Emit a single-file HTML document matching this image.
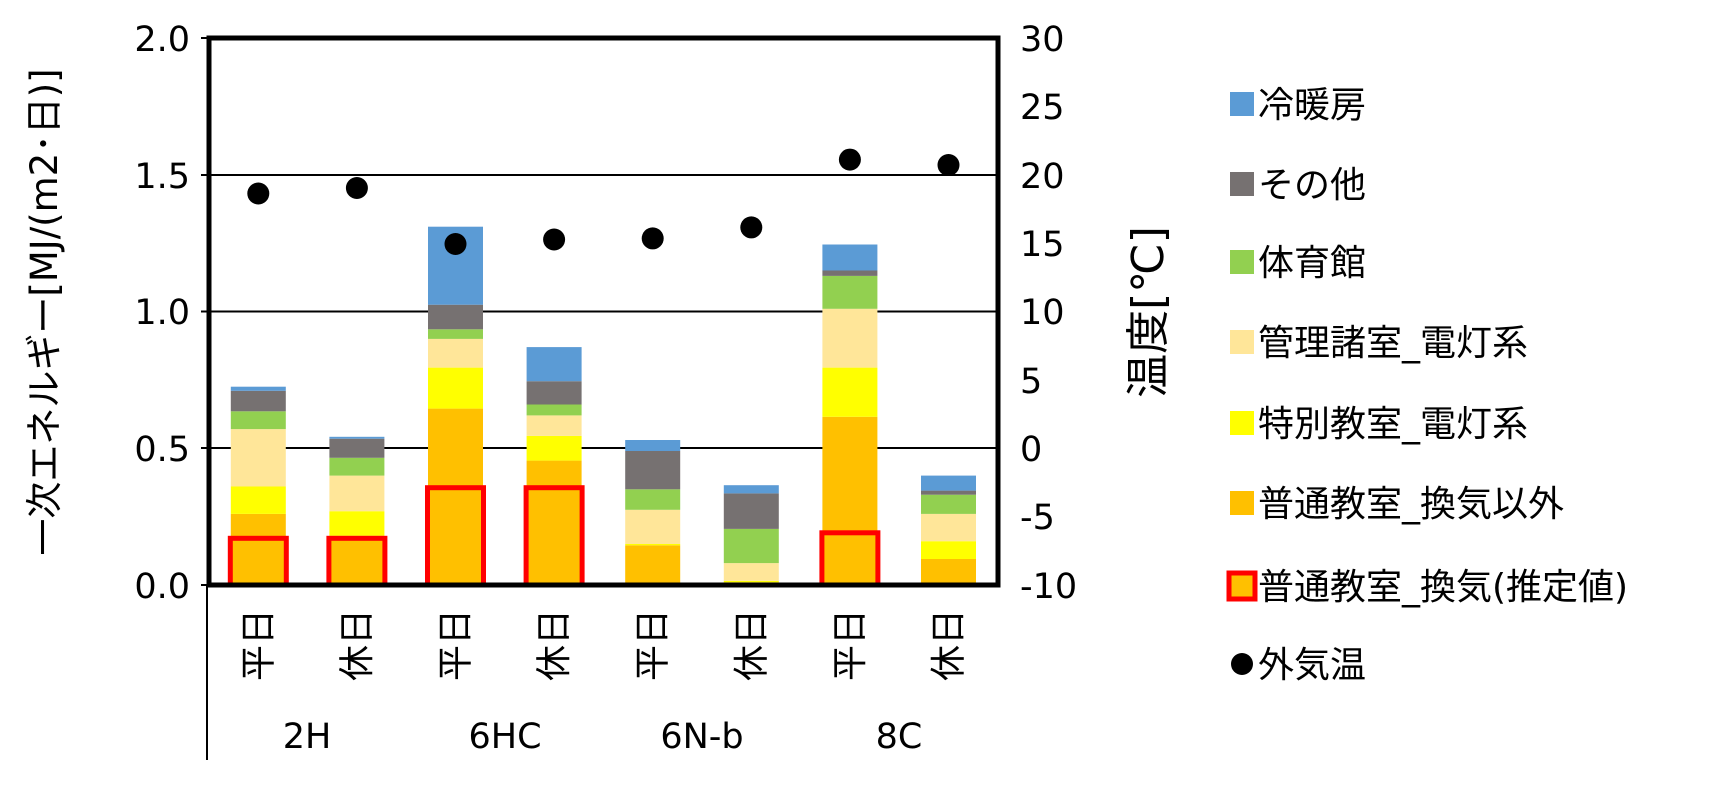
<!DOCTYPE html>
<html><head><meta charset="utf-8"><style>
html,body{margin:0;padding:0;background:#fff;}
svg{display:block;}
text{font-family:"DejaVu Sans","Noto Sans CJK JP",sans-serif;fill:#000;}
</style></head><body>
<svg width="1714" height="800" viewBox="0 0 1714 800" xmlns="http://www.w3.org/2000/svg">
<g stroke="#000" stroke-width="2">
<line x1="209" y1="175" x2="998" y2="175"/>
<line x1="209" y1="311.5" x2="998" y2="311.5"/>
<line x1="209" y1="448" x2="998" y2="448"/>
</g>
<g>
<rect x="230.8" y="513.9" width="55" height="71.1" fill="#FFC000"/>
<rect x="230.8" y="486.5" width="55" height="27.4" fill="#FFFF00"/>
<rect x="230.8" y="429.1" width="55" height="57.4" fill="#FFE699"/>
<rect x="230.8" y="411.3" width="55" height="17.8" fill="#92D050"/>
<rect x="230.8" y="390.8" width="55" height="20.5" fill="#767171"/>
<rect x="230.8" y="386.7" width="55" height="4.1" fill="#5B9BD5"/>
<rect x="230.3" y="538.3" width="56" height="46.7" fill="#FFC000" stroke="#FF0000" stroke-width="5"/>
</g>
<g>
<rect x="329.4" y="535.8" width="55" height="49.2" fill="#FFC000"/>
<rect x="329.4" y="511.2" width="55" height="24.6" fill="#FFFF00"/>
<rect x="329.4" y="475.6" width="55" height="35.6" fill="#FFE699"/>
<rect x="329.4" y="457.8" width="55" height="17.8" fill="#92D050"/>
<rect x="329.4" y="438.7" width="55" height="19.1" fill="#767171"/>
<rect x="329.4" y="436.8" width="55" height="1.9" fill="#5B9BD5"/>
<rect x="328.9" y="538.3" width="56" height="46.7" fill="#FFC000" stroke="#FF0000" stroke-width="5"/>
</g>
<g>
<rect x="428" y="408.6" width="55" height="176.4" fill="#FFC000"/>
<rect x="428" y="367.6" width="55" height="41" fill="#FFFF00"/>
<rect x="428" y="338.9" width="55" height="28.7" fill="#FFE699"/>
<rect x="428" y="329.3" width="55" height="9.6" fill="#92D050"/>
<rect x="428" y="304.7" width="55" height="24.6" fill="#767171"/>
<rect x="428" y="226.7" width="55" height="78" fill="#5B9BD5"/>
<rect x="427.5" y="487.7" width="56" height="97.3" fill="#FFC000" stroke="#FF0000" stroke-width="5"/>
</g>
<g>
<rect x="526.6" y="460.6" width="55" height="124.4" fill="#FFC000"/>
<rect x="526.6" y="435.9" width="55" height="24.7" fill="#FFFF00"/>
<rect x="526.6" y="415.4" width="55" height="20.5" fill="#FFE699"/>
<rect x="526.6" y="404.5" width="55" height="10.9" fill="#92D050"/>
<rect x="526.6" y="381.2" width="55" height="23.3" fill="#767171"/>
<rect x="526.6" y="347.1" width="55" height="34.1" fill="#5B9BD5"/>
<rect x="526.1" y="487.7" width="56" height="97.3" fill="#FFC000" stroke="#FF0000" stroke-width="5"/>
</g>
<g>
<rect x="625.2" y="545.3" width="55" height="39.7" fill="#FFC000"/>
<rect x="625.2" y="544" width="55" height="1.3" fill="#FFFF00"/>
<rect x="625.2" y="509.8" width="55" height="34.2" fill="#FFE699"/>
<rect x="625.2" y="489.3" width="55" height="20.5" fill="#92D050"/>
<rect x="625.2" y="451" width="55" height="38.3" fill="#767171"/>
<rect x="625.2" y="440" width="55" height="11" fill="#5B9BD5"/>
</g>
<g>
<rect x="723.8" y="582.3" width="55" height="2.7" fill="#FFC000"/>
<rect x="723.8" y="580.9" width="55" height="1.4" fill="#FFFF00"/>
<rect x="723.8" y="563.1" width="55" height="17.8" fill="#FFE699"/>
<rect x="723.8" y="528.9" width="55" height="34.2" fill="#92D050"/>
<rect x="723.8" y="493.4" width="55" height="35.5" fill="#767171"/>
<rect x="723.8" y="485.2" width="55" height="8.2" fill="#5B9BD5"/>
</g>
<g>
<rect x="822.4" y="416.8" width="55" height="168.2" fill="#FFC000"/>
<rect x="822.4" y="367.6" width="55" height="49.2" fill="#FFFF00"/>
<rect x="822.4" y="308.8" width="55" height="58.8" fill="#FFE699"/>
<rect x="822.4" y="275.9" width="55" height="32.9" fill="#92D050"/>
<rect x="822.4" y="270.5" width="55" height="5.4" fill="#767171"/>
<rect x="822.4" y="244.5" width="55" height="26" fill="#5B9BD5"/>
<rect x="821.9" y="532.8" width="56" height="52.2" fill="#FFC000" stroke="#FF0000" stroke-width="5"/>
</g>
<g>
<rect x="921" y="559" width="55" height="26" fill="#FFC000"/>
<rect x="921" y="541.2" width="55" height="17.8" fill="#FFFF00"/>
<rect x="921" y="513.9" width="55" height="27.3" fill="#FFE699"/>
<rect x="921" y="494.7" width="55" height="19.2" fill="#92D050"/>
<rect x="921" y="490.6" width="55" height="4.1" fill="#767171"/>
<rect x="921" y="475.6" width="55" height="15" fill="#5B9BD5"/>
</g>
<g fill="#000">
<circle cx="258.3" cy="193.5" r="11"/>
<circle cx="356.9" cy="188" r="11"/>
<circle cx="455.5" cy="244" r="11"/>
<circle cx="554.1" cy="239.5" r="11"/>
<circle cx="652.7" cy="238.4" r="11"/>
<circle cx="751.3" cy="227.4" r="11"/>
<circle cx="849.9" cy="159.6" r="11"/>
<circle cx="948.5" cy="165" r="11"/>
</g>
<g stroke="#000" fill="none">
<rect x="209" y="38" width="789" height="547" stroke-width="5"/>
<line x1="201" y1="38" x2="209" y2="38" stroke-width="2"/>
<line x1="201" y1="175" x2="209" y2="175" stroke-width="2"/>
<line x1="201" y1="311.5" x2="209" y2="311.5" stroke-width="2"/>
<line x1="201" y1="448" x2="209" y2="448" stroke-width="2"/>
<line x1="201" y1="585" x2="209" y2="585" stroke-width="2"/>
<line x1="207" y1="585" x2="207" y2="760" stroke-width="2"/>
</g>
<g font-size="36" text-anchor="middle">
<text transform="translate(270.3,645) rotate(-90)">平日</text>
<text transform="translate(368.9,645) rotate(-90)">休日</text>
<text transform="translate(467.5,645) rotate(-90)">平日</text>
<text transform="translate(566.1,645) rotate(-90)">休日</text>
<text transform="translate(664.7,645) rotate(-90)">平日</text>
<text transform="translate(763.3,645) rotate(-90)">休日</text>
<text transform="translate(861.9,645) rotate(-90)">平日</text>
<text transform="translate(960.5,645) rotate(-90)">休日</text>
</g>
<g font-size="35" text-anchor="end">
<text x="190" y="51">2.0</text><text x="190" y="188">1.5</text><text x="190" y="324">1.0</text><text x="190" y="461">0.5</text><text x="190" y="598">0.0</text>
</g>
<g font-size="35">
<text x="1020" y="51">30</text><text x="1020" y="119">25</text><text x="1020" y="188">20</text><text x="1020" y="256">15</text><text x="1020" y="324">10</text><text x="1020" y="393">5</text><text x="1020" y="461">0</text><text x="1020" y="529">-5</text><text x="1020" y="598">-10</text>
</g>
<text transform="translate(57,312) rotate(-90)" font-size="37" text-anchor="middle">一次エネルギー[MJ/(m2･日)]</text>
<text transform="translate(1163,312) rotate(-90)" font-size="44" text-anchor="middle">温度[℃]</text>
<g font-size="35" text-anchor="middle">
<text x="307" y="748">2H</text><text x="505" y="748">6HC</text><text x="702" y="748">6N-b</text><text x="899" y="748">8C</text>
</g>
<g font-size="36">
<rect x="1230" y="92" width="24" height="24" fill="#5B9BD5"/><text x="1258" y="117">冷暖房</text>
<rect x="1230" y="172" width="24" height="24" fill="#767171"/><text x="1258" y="197">その他</text>
<rect x="1230" y="250" width="24" height="24" fill="#92D050"/><text x="1258" y="275">体育館</text>
<rect x="1230" y="330" width="24" height="24" fill="#FFE699"/><text x="1258" y="355">管理諸室_電灯系</text>
<rect x="1230" y="411" width="24" height="24" fill="#FFFF00"/><text x="1258" y="436">特別教室_電灯系</text>
<rect x="1230" y="491" width="24" height="24" fill="#FFC000"/><text x="1258" y="516">普通教室_換気以外</text>
<rect x="1229" y="573" width="26" height="26" fill="#FFC000" stroke="#FF0000" stroke-width="5"/><text x="1258" y="599">普通教室_換気(推定値)</text>
<circle cx="1242" cy="664" r="11" fill="#000"/><text x="1258" y="677">外気温</text>
</g>
</svg>
</body></html>
